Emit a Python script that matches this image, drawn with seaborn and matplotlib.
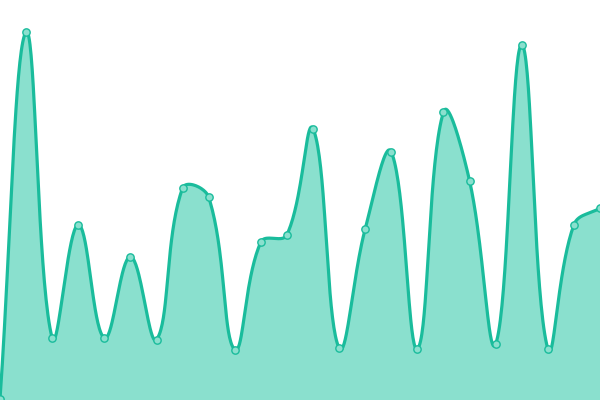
import matplotlib
matplotlib.use("Agg")
import matplotlib.pyplot as plt
import seaborn as sns
import pandas as pd
import numpy as np

# data (y axis 0..100)
idx = list(range(24))
values = [0.3, 92, 15.5, 43.8, 15.5, 35.8, 15.1, 53, 50.7, 12.6, 39.5, 41.3,
          67.8, 13, 42.8, 62, 12.8, 72, 54.8, 14, 88.8, 12.8, 43.8, 48]

W, H = 600, 400
line_col = "#1abc9c"
fill_col = "#8ae0ce"


def smooth(xs, ys, t=0.4, steps=40):
    # chart.js style spline in pixel space, control points capped to the area
    px = np.array(xs, float) * W / (len(xs) - 1)
    py = np.array(ys, float) * H / 100.0
    pts = np.column_stack([px, py])
    n = len(pts)
    prev_cp, next_cp = [], []
    for i in range(n):
        a = pts[max(i - 1, 0)]
        m = pts[i]
        b = pts[min(i + 1, n - 1)]
        d01 = np.hypot(*(m - a))
        d12 = np.hypot(*(b - m))
        tot = d01 + d12
        s01 = d01 / tot if tot else 0
        s12 = d12 / tot if tot else 0
        prev_cp.append(np.clip(m - t * s01 * (b - a), [0, 0], [W, H]))
        next_cp.append(np.clip(m + t * s12 * (b - a), [0, 0], [W, H]))
    out = []
    u = np.linspace(0, 1, steps)[:, None]
    for i in range(n - 1):
        p0, p1, p2, p3 = pts[i], next_cp[i], prev_cp[i + 1], pts[i + 1]
        seg = ((1 - u) ** 3) * p0 + 3 * ((1 - u) ** 2) * u * p1 + 3 * (1 - u) * u ** 2 * p2 + u ** 3 * p3
        out.append(seg if i == 0 else seg[1:])
    out = np.vstack(out)
    return out[:, 0] * (len(xs) - 1) / W, out[:, 1] * 100.0 / H


sx, sy = smooth(idx, values)
curve = pd.DataFrame({"x": sx, "y": sy})
points = pd.DataFrame({"x": idx, "y": values})

sns.set_style("white")
fig = plt.figure(figsize=(6, 4), dpi=100)
ax = fig.add_axes([0, 0, 1, 1])
ax.fill_between(curve["x"], curve["y"], 0, color=fill_col, lw=0)
sns.lineplot(data=curve, x="x", y="y", ax=ax, color=line_col, lw=2.3, sort=False)
sns.scatterplot(data=points, x="x", y="y", ax=ax, color=fill_col, edgecolor=line_col,
                linewidth=1, s=28, zorder=5, clip_on=False)
ax.set_xlim(0, 23)
ax.set_ylim(0, 100)
ax.set_axis_off()
fig.savefig("out.png", dpi=100)
